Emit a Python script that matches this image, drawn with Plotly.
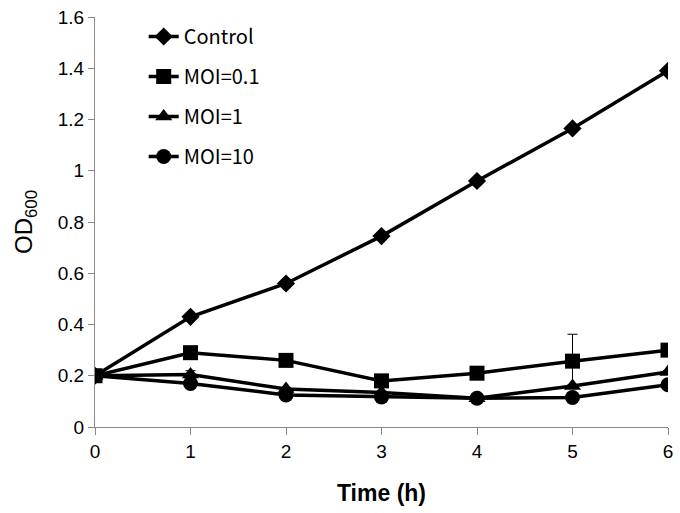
import plotly.graph_objects as go

time_h = [0, 1, 2, 3, 4, 5, 6]
control = [0.20, 0.43, 0.56, 0.745, 0.96, 1.165, 1.39]
moi_01 = [0.20, 0.29, 0.26, 0.18, 0.21, 0.257, 0.30]
moi_1 = [0.20, 0.205, 0.148, 0.135, 0.112, 0.16, 0.215]
moi_10 = [0.20, 0.17, 0.125, 0.117, 0.112, 0.115, 0.165]
err_control = [0, 0.005, 0.005, 0.005, 0.005, 0.005, 0.005]
err_moi_01 = [0, 0.005, 0.005, 0.005, 0.005, 0.105, 0.005]
err_moi_1 = [0, 0.015, 0.005, 0.005, 0.005, 0.005, 0.005]
err_moi_10 = [0, 0.005, 0.005, 0.005, 0.005, 0.005, 0.005]
names = ["Control", "MOI=0.1", "MOI=1", "MOI=10"]
symbols = ["diamond", "square", "triangle-up", "circle"]
sizes = [14, 15, 15, 15]

fig = go.Figure()
for i, (y, e) in enumerate(zip([control, moi_01, moi_1, moi_10],
                               [err_control, err_moi_01, err_moi_1, err_moi_10])):
    fig.add_trace(go.Scatter(
        x=time_h, y=y, name=names[i], mode="lines+markers",
        legendgroup=names[i],
        line=dict(color="black", width=3.5),
        marker=dict(symbol=symbols[i], size=sizes[i], color="black"),
        error_y=dict(type="data", array=e, visible=True, color="black",
                     thickness=1, width=5),
    ))

fig.update_layout(
    width=680, height=513,
    margin=dict(l=95, r=7, t=10, b=86),
    plot_bgcolor="white", paper_bgcolor="white",
    font=dict(family="Liberation Sans", color="black", size=19),
    showlegend=True,
    legend=dict(x=0.085, y=1.0, xanchor="left", yanchor="top",
                bgcolor="rgba(0,0,0,0)", traceorder="grouped",
                tracegroupgap=11,
                font=dict(family="Noto Sans CJK KR", size=20)),
)
fig.update_xaxes(
    range=[0, 6], tickvals=time_h, showgrid=False, zeroline=False,
    showline=True, linecolor="#888", linewidth=1,
    ticks="outside", ticklen=7, tickcolor="#888",
    tickfont=dict(size=19), ticklabeloverflow="allow",
    title=dict(text="<b>Time (h)</b>", font=dict(size=23), standoff=24),
)
fig.update_yaxes(
    range=[0, 1.6], tickvals=[0, 0.2, 0.4, 0.6, 0.8, 1, 1.2, 1.4, 1.6],
    ticktext=["0", "0.2", "0.4", "0.6", "0.8", "1", "1.2", "1.4", "1.6"],
    showgrid=False, zeroline=False,
    showline=True, linecolor="#888", linewidth=1,
    ticks="outside", ticklen=6, tickcolor="#888",
    tickfont=dict(size=19), ticklabeloverflow="allow",
    title=dict(text="OD<sub>600</sub>", font=dict(size=24), standoff=18),
)

fig.write_html("out.html", config={"displayModeBar": False},
               post_script="document.body.style.margin='0';document.body.style.padding='0';")
